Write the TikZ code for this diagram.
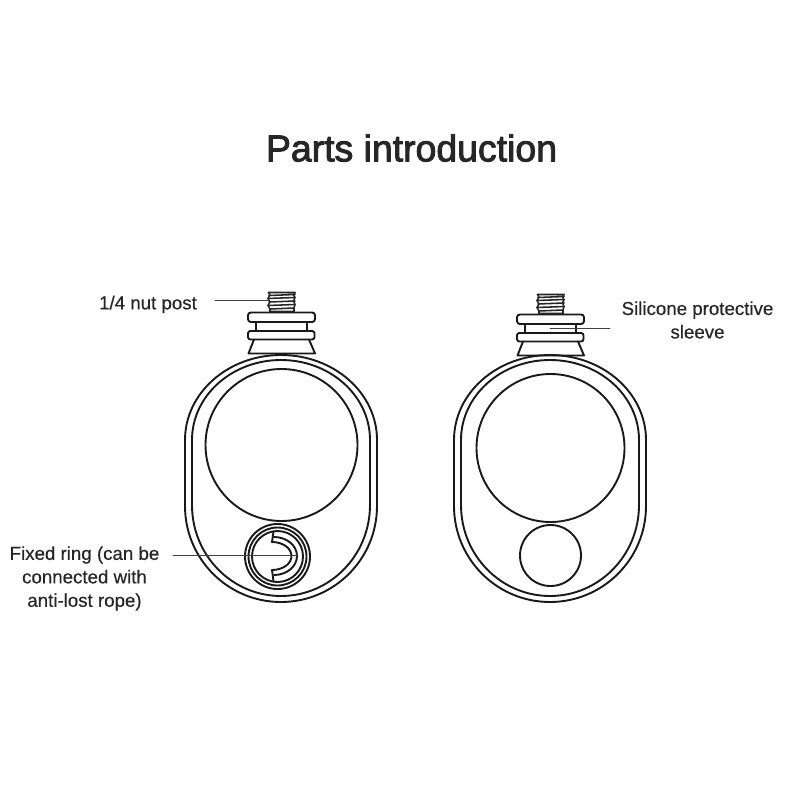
\documentclass[tikz,border=0pt]{standalone}
\usepackage{fontspec}
\setmainfont{Liberation Sans}
\newfontfamily\titlefont[FakeBold=2.5]{Liberation Sans}
\newfontfamily\labelfont[FakeBold=0.4]{Liberation Sans}
\begin{document}
\begin{tikzpicture}[x=0.025cm,y=-0.025cm,line join=round,line cap=round,
	part/.style={line width=1.35pt,black!90},
	thread/.style={line width=1.1pt,black!85},
	leader/.style={line width=0.65pt,black!75},
	label/.style={font=\labelfont\fontsize{13.3}{16.7}\selectfont,text=black!85,align=center,inner sep=0pt}]
	\useasboundingbox (0,0) rectangle (800,800);
	\node (title) at (411.5,148) [inner sep=0pt,text=black!85,font=\titlefont\fontsize{26.6}{30}\selectfont]{Parts introduction};
	% both bodies with post and sleeve
	\foreach \dx/\dy/\cy/\cr in {0/0/445/76,269/2/448/74}
	{\begin{scope}[shift={(\dx,0)}]
			\draw[part] (185,440) arc[start angle=180,end angle=360,x radius=96,y radius=85]
				--(377,506) arc[start angle=0,end angle=180,x radius=96,y radius=96]--cycle;
			\draw[part] (192,440) arc[start angle=180,end angle=360,x radius=89,y radius=80]
				--(370,505) arc[start angle=0,end angle=180,x radius=89,y radius=91]--cycle;
			\draw[part] (281.5,\cy) circle (\cr);
		\end{scope}
		\begin{scope}[shift={(\dx,\dy)}]
			\draw[part,rounded corners=0.07cm] (248,312.5)--(315,312.5)--(315,322)--(248,322)--cycle;
			\draw[part] (256,322)--(256,331) (307,322)--(307,331);
			\draw[part,rounded corners=0.06cm] (248,331)--(314.5,331)--(314.5,339.5)--(248,339.5)--cycle;
			\draw[part] (254,339.5)--(248.5,353.5)--(315,353.5)--(309,339.5);
			\draw[thread] (268.5,292.5)--(295,292.5) (269,295.5)--(295,294.5) (268,298.5)--(295,297.5)
				(269,302)--(295,301) (268,305.5)--(295,304.5) (270,309)--(294,308) (270,311.5)--(294,311.5);
			\draw[thread] (268.5,292.5)--(270,295)--(268,298.5)--(270,302)--(268,305.5)--(270,309)--(270,311.5);
			\draw[thread] (295,292.5)--(293.5,295)--(295,297.5)--(293.5,301)--(295,304.5)--(294,308)--(294,311.5);
		\end{scope}}
	% fixed ring of the left body
	\foreach \r in {32.5,29,25.5}
	{\draw[part] (277.5,556.5) circle (\r);}
	\draw[part] (273.5,531.5)--(272,542)--(274,542);
	\draw[part] (272,570)--(273.5,581.5);
	\draw[part] (274,537) arc[start angle=270,end angle=450,x radius=23,y radius=19];
	\draw[part] (272,542) arc[start angle=270,end angle=450,x radius=19.5,y radius=14];
	% small circle of the right body
	\node[draw,part,circle,minimum size=1.525cm,inner sep=0pt] (cover) at (550.5,555.5) {};
	% labels
	\node[label] (nutlabel) at (148,304.5) {1/4 nut post};
	\node[label] (sleevelabel) at (697.5,320) {Silicone protective\\sleeve};
	\node[label] (ringlabel) at (84.5,578.5) {Fixed ring (can be\\connected with\\ anti-lost rope)};
	\coordinate (nutend) at (268,300);
	\coordinate (sleevefree) at (610,328);
	\coordinate (sleeveend) at (550,328);
	\coordinate (ringfree) at (173,555.5);
	\coordinate (ringend) at (298,555.5);
	\draw[leader] (nutlabel.east|-nutend) ++(18,0) -- (nutend);
	\draw[leader] (sleevefree) -- (sleeveend);
	\draw[leader] (ringfree) -- (ringend);
\end{tikzpicture}
\end{document}
